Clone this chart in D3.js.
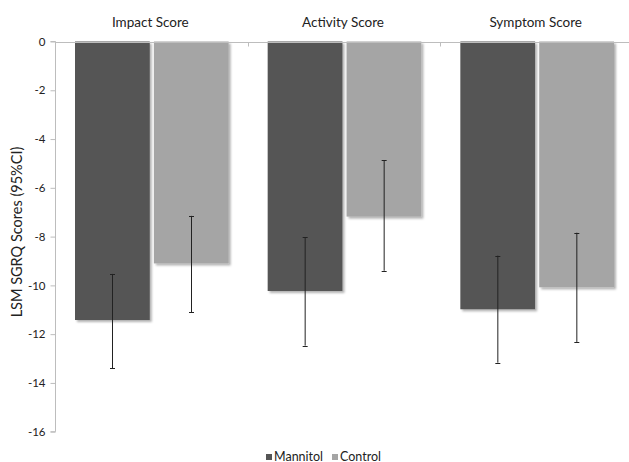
<!DOCTYPE html>
<html>
<head>
<meta charset="utf-8">
<script src="https://cdn.jsdelivr.net/npm/d3@7"></script>
<style>
  html, body { margin: 0; padding: 0; background: #fff; }
  svg { display: block; font-family: Lato, "Open Sans", sans-serif; }
</style>
</head>
<body>
<svg id="chart" width="629" height="462"></svg>
<script>
// SGRQ domain scores by treatment
const categories = ["Impact Score", "Activity Score", "Symptom Score"];
const seriesNames = ["Mannitol", "Control"];
const mannitol = [-11.42, -10.23, -10.98];
const control = [-9.10, -7.18, -10.08];
// 95% CI bounds (upper = less negative end, lower = more negative end)
const mannitolUpper = [-9.53, -8.03, -8.78];
const mannitolLower = [-13.39, -12.47, -13.17];
const controlUpper = [-7.15, -4.86, -7.84];
const controlLower = [-11.10, -9.40, -12.32];
const yTicks = [0, -2, -4, -6, -8, -10, -12, -14, -16];
const yLabel = "LSM SGRQ Scores (95%CI)";

const colors = { Mannitol: "#555555", Control: "#a5a5a5" };

const rows = categories.map((c, i) => ({
  category: c,
  values: [
    { series: "Mannitol", value: mannitol[i], upper: mannitolUpper[i], lower: mannitolLower[i] },
    { series: "Control", value: control[i], upper: controlUpper[i], lower: controlLower[i] }
  ]
}));

const svg = d3.select("#chart");
const plotLeft = 55, plotRight = 633, plotTop = 41.5, plotBottom = 431.7;

const y = d3.scaleLinear().domain([0, -16]).range([plotTop, plotBottom]);
const x0 = d3.scaleBand().domain(categories).range([plotLeft, plotRight]).paddingInner(0).paddingOuter(0);
const x1 = d3.scaleBand().domain(seriesNames).range([20, x0.bandwidth() - 19]).paddingInner(0.052);

// soft drop shadow under the bars
const defs = svg.append("defs");
const f = defs.append("filter").attr("id", "shadow").attr("x", "-10%").attr("y", "-10%").attr("width", "130%").attr("height", "130%");
f.append("feDropShadow").attr("dx", 2).attr("dy", 2).attr("stdDeviation", 1)
  .attr("flood-color", "#000").attr("flood-opacity", 0.3);

// bars
const groups = svg.append("g").selectAll("g").data(rows).join("g")
  .attr("transform", d => `translate(${x0(d.category)},0)`);

groups.selectAll("rect").data(d => d.values).join("rect")
  .attr("x", d => x1(d.series))
  .attr("width", x1.bandwidth())
  .attr("y", d => y(0))
  .attr("height", d => y(d.value) - y(0))
  .attr("fill", d => colors[d.series])
  .attr("filter", "url(#shadow)");

// error bars
const eb = groups.selectAll("g.err").data(d => d.values).join("g").attr("class", "err")
  .attr("stroke", "#222").attr("stroke-width", 1);
eb.each(function(d) {
  const cx = Math.round(x1(d.series) + x1.bandwidth() / 2) + 0.5;
  const g = d3.select(this);
  g.append("line").attr("x1", cx).attr("x2", cx)
    .attr("y1", y(d.upper)).attr("y2", y(d.lower));
  [d.upper, d.lower].forEach(v => {
    g.append("line")
      .attr("x1", cx - 2.5).attr("x2", cx + 2.5)
      .attr("y1", Math.round(y(v)) + 0.5).attr("y2", Math.round(y(v)) + 0.5);
  });
});

// y axis (plain hyphen for negatives)
const yAxis = svg.append("g").attr("transform", `translate(${plotLeft + 0.5},0)`)
  .call(d3.axisLeft(y).tickValues(yTicks).tickSize(5).tickPadding(5).tickFormat(d => String(d)));
yAxis.select(".domain").attr("stroke", "#bdbdbd").attr("d", `M-5,${plotTop}H0V${plotBottom}H-5`);
yAxis.selectAll(".tick line").attr("stroke", "#bdbdbd");
yAxis.selectAll(".tick text").attr("fill", "#222").attr("font-size", 11.5)
  .attr("font-family", "Lato, 'Open Sans', sans-serif");

// zero baseline with category separators
const xAxis = svg.append("g").attr("transform", `translate(0,${Math.round(y(0)) + 0.5})`)
  .call(d3.axisTop(x0).tickSize(0).tickFormat(""));
xAxis.select(".domain").attr("stroke", "#bdbdbd").attr("d", `M${plotLeft},0H629`);
xAxis.selectAll(".tick").remove();
categories.slice(1).forEach(c => {
  xAxis.append("line").attr("x1", Math.round(x0(c)) + 0.5).attr("x2", Math.round(x0(c)) + 0.5)
    .attr("y1", 0).attr("y2", 4).attr("stroke", "#bdbdbd");
});

// category titles
svg.append("g").selectAll("text").data(categories).join("text")
  .attr("x", d => x0(d) + x0.bandwidth() / 2 - 1)
  .attr("y", 26.5)
  .attr("text-anchor", "middle")
  .attr("font-size", 13.5)
  .attr("fill", "#222")
  .text(d => d);

// y axis title
svg.append("text")
  .attr("transform", `translate(22,232) rotate(-90)`)
  .attr("text-anchor", "middle")
  .attr("font-size", 14.5)
  .attr("fill", "#222")
  .text(yLabel);

// legend
const legend = svg.append("g").attr("transform", "translate(266,454)");
const items = legend.selectAll("g").data(seriesNames).join("g")
  .attr("transform", (d, i) => `translate(${i * 66},0)`);
items.append("rect").attr("width", 6).attr("height", 6).attr("fill", d => colors[d]);
items.append("text").attr("x", 8).attr("y", 6.5).attr("font-size", 12.5).attr("fill", "#222").text(d => d);
</script>
</body>
</html>
